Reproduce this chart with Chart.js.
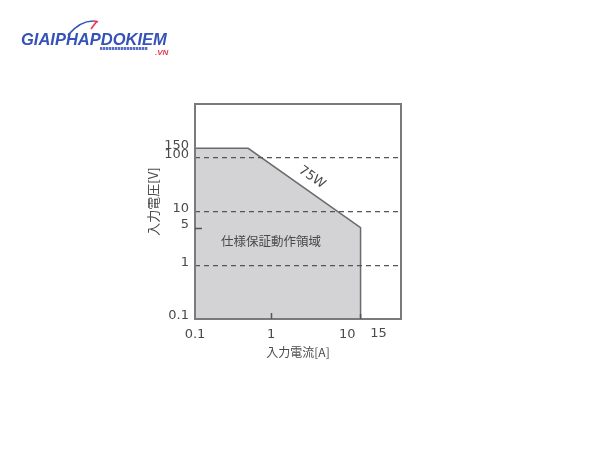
<!DOCTYPE html>
<html><head><meta charset="utf-8">
<script src="https://cdn.jsdelivr.net/npm/chart.js@4/dist/chart.umd.min.js"></script>
<style>
html,body{margin:0;padding:0;background:#fff;}
#wrap{position:relative;width:600px;height:450px;overflow:hidden;}
canvas{position:absolute;left:0;top:0;}
#logo{position:absolute;left:21px;top:31px;font:italic bold 16.5px "Liberation Sans",Arial,sans-serif;color:#3552b8;line-height:16px;white-space:nowrap;}
#logo .vn{position:absolute;left:134px;top:14px;font-size:8px;color:#e23a4e;}
#bar{position:absolute;left:100px;top:47px;width:48px;height:3px;background:repeating-linear-gradient(90deg,#5a6fc4 0 2px,#b9c3ea 2px 3px);}
#arc{position:absolute;left:60px;top:16px;}
</style></head><body>
<div id="wrap"><canvas id="c" width="600" height="450"></canvas>
<svg id="arc" width="45" height="25" viewBox="0 0 45 25"><path d="M8 19 Q 20 5 33 5" fill="none" stroke="#3552b8" stroke-width="1.6"/><path d="M33 5 Q 36 5 38 6" fill="none" stroke="#e23a4e" stroke-width="1.6"/><path d="M37 5 L 31 13" stroke="#e23a4e" stroke-width="1.6"/></svg>
<div id="logo">GIAIPHAPDOKIEM<span class="vn">.VN</span></div><div id="bar"></div></div>
<script>
// Boundary of the guaranteed operating region (current A, voltage V)
const currentA = [0.1, 0.5, 15, 15];
const voltageV = [150, 150, 5, 0.1];
const xTickValues = [0.1, 1, 10, 15];
const yTickValues = [0.1, 1, 5, 10, 100, 150];
const yGridValues = [1, 10, 100];
const powerLabel = '75W';
const regionLabel = '仕様保証動作領域';
const regionLabelAt = [1, 2.8];
const xTitle = '入力電流[A]';
const yTitle = '入力電圧[V]';

const TXT = '#4a4a4a';
const NUMFONT = 'DejaVu Sans';
const JPFONT = '"Noto Sans CJK JP", "Noto Sans", sans-serif';

const points = currentA.map((x, i) => ({x: x, y: voltageV[i]}));

const decor = {
  id: 'decor',
  afterDraw(chart) {
    const ctx = chart.ctx, a = chart.chartArea;
    const xs = chart.scales.x, ys = chart.scales.y;
    ctx.save();
    // plot frame
    ctx.strokeStyle = '#7a7a7a';
    ctx.lineWidth = 2;
    ctx.strokeRect(a.left, a.top, a.right - a.left, a.bottom - a.top);
    // inner tick marks
    ctx.strokeStyle = '#555';
    ctx.lineWidth = 1.5;
    ctx.beginPath();
    const y5 = Math.round(ys.getPixelForValue(5)) + 0.5;
    ctx.moveTo(a.left, y5); ctx.lineTo(a.left + 7, y5);
    const x1 = Math.round(xs.getPixelForValue(1)) + 0.5;
    ctx.moveTo(x1, a.bottom); ctx.lineTo(x1, a.bottom - 6);
    const x15 = xs.getPixelForValue(15);
    ctx.moveTo(x15, a.bottom); ctx.lineTo(x15, a.bottom - 5);
    ctx.stroke();
    // "15" tick label (set right of its tick, as in the original)
    ctx.fillStyle = TXT;
    ctx.font = '13px ' + NUMFONT;
    ctx.textAlign = 'center';
    ctx.textBaseline = 'middle';
    ctx.fillText('15', x15 + 18, a.bottom + 15);
    // y axis title
    ctx.save();
    ctx.translate(a.left - 42, (a.top + a.bottom) / 2 - 10);
    ctx.rotate(-Math.PI / 2);
    ctx.font = '13px ' + JPFONT;
    ctx.fillText(yTitle, 0, 0);
    ctx.restore();
    // 75W label along the constant-power edge
    const p1x = xs.getPixelForValue(currentA[1]), p1y = ys.getPixelForValue(voltageV[1]);
    const p2x = xs.getPixelForValue(currentA[2]), p2y = ys.getPixelForValue(voltageV[2]);
    const ang = Math.atan2(p2y - p1y, p2x - p1x);
    const mx = (p1x + p2x) / 2 + Math.sin(ang) * 13;
    const my = (p1y + p2y) / 2 - Math.cos(ang) * 13;
    ctx.save();
    ctx.translate(mx, my);
    ctx.rotate(ang);
    ctx.font = '13px ' + NUMFONT;
    ctx.fillText(powerLabel, 0, 0);
    ctx.restore();
    // region label
    ctx.font = '12.5px ' + JPFONT;
    ctx.fillText(regionLabel, xs.getPixelForValue(regionLabelAt[0]), ys.getPixelForValue(regionLabelAt[1]));
    ctx.restore();
  }
};

new Chart(document.getElementById('c'), {
  type: 'line',
  data: {
    datasets: [{
      data: points,
      borderColor: '#6b6b6b',
      borderWidth: 1.5,
      backgroundColor: '#d3d3d5',
      fill: 'start',
      pointRadius: 0,
      tension: 0
    }]
  },
  options: {
    responsive: false,
    animation: false,
    events: [],
    layout: {padding: {left: 140, right: 199, top: 104, bottom: 80}},
    plugins: {legend: {display: false}, tooltip: {enabled: false}},
    scales: {
      x: {
        type: 'logarithmic',
        min: 0.1,
        max: 51,
        afterBuildTicks: s => { s.ticks = xTickValues.map(v => ({value: v})); },
        afterFit: s => { s.height = 51; },
        grid: {display: false, drawTicks: false},
        border: {display: false},
        ticks: {
          autoSkip: false, maxRotation: 0, padding: 8,
          color: TXT, font: {family: NUMFONT, size: 13},
          callback: v => (v === 15 ? '' : String(v))
        },
        title: {
          display: true, text: xTitle, color: TXT,
          font: {family: JPFONT, size: 12}, padding: {top: 0, bottom: 10}
        }
      },
      y: {
        type: 'logarithmic',
        min: 0.1,
        max: 1000,
        afterBuildTicks: s => { s.ticks = yTickValues.map(v => ({value: v})); },
        afterFit: s => { s.width = 55; },
        grid: {
          z: 1,
          drawTicks: false,
          lineWidth: 1.2,
          color: c => (c.tick && yGridValues.includes(c.tick.value) ? '#555' : 'rgba(0,0,0,0)')
        },
        border: {display: false, dash: [5, 4]},
        ticks: {
          autoSkip: false, padding: 6, labelOffset: -3,
          color: TXT, font: {family: NUMFONT, size: 13},
          callback: v => String(v)
        }
      }
    }
  },
  plugins: [decor]
});
</script>
</body></html>
